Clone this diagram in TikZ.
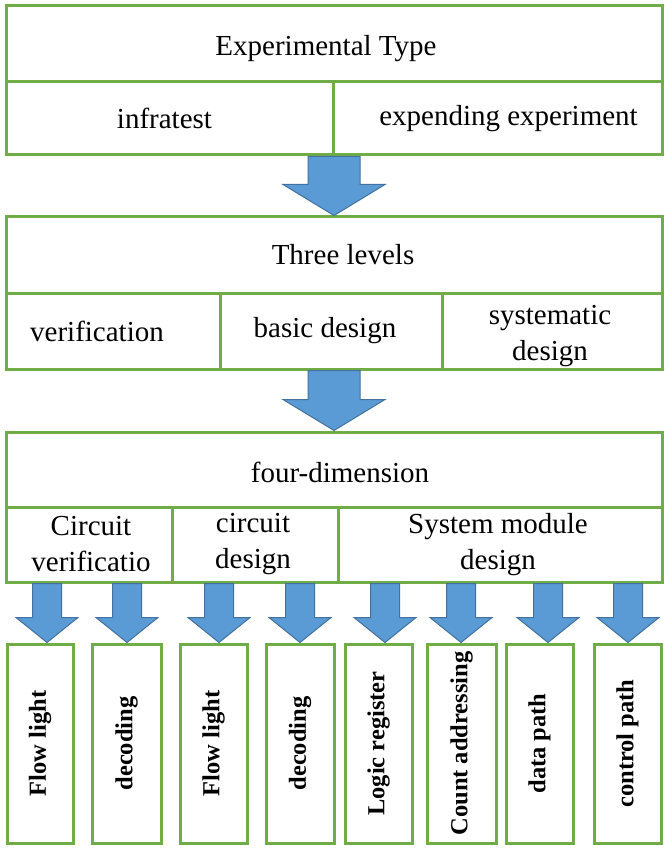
\documentclass[tikz,border=0pt]{standalone}
\usepackage{fontspec}
\setmainfont{Liberation Serif}
\usetikzlibrary{calc}
\definecolor{cellgreen}{HTML}{70AD47}
\definecolor{arrowblue}{HTML}{5B9BD5}
\definecolor{arrowedge}{HTML}{41719C}
\tikzset{
  cellbox/.style={draw=cellgreen, line width=3pt, rectangle, inner sep=0pt, fill=white},
  lab/.style={font=\fontsize{29}{36}\selectfont, align=center, inner sep=0pt},
  vlab/.style={font=\fontsize{24.5}{28}\selectfont\bfseries, rotate=90, inner sep=0pt},
  blockarrow/.style={fill=arrowblue, draw=arrowedge, line width=1pt, line join=miter}
}
\newcommand\cellnode[5]{% name, x1, y1, x2, y2
  \node[cellbox, minimum width={(#4-#2)*1pt}, minimum height={(#5-#3)*1pt}] (#1) at ({(#2+#4)/2},{(#3+#5)/2}) {};}
\newcommand\blockarrow[5]{% start, end, shaft half, head half, head length
  \draw[blockarrow] let \p1=#1, \p2=#2 in
   ({\x2-#3},\y1) -- ({\x2+#3},\y1) -- ({\x2+#3},{\y2+#5}) -- ({\x2+#4},{\y2+#5})
   -- (\x2,\y2) -- ({\x2-#4},{\y2+#5}) -- ({\x2-#3},{\y2+#5}) -- cycle;}
\begin{document}
\begin{tikzpicture}[x=1pt, y=-1pt]
\useasboundingbox (0,0) rectangle (668,850);
% box 1
\cellnode{e0}{6}{6}{662}{82}
\cellnode{e1}{6}{82}{333}{155}
\cellnode{e2}{333}{82}{662}{155}
\node[lab] at ([xshift=-8pt,yshift=-5pt]e0.center) {Experimental Type};
\node[lab] at ([xshift=-5pt]e1.center) {infratest};
\node[lab] at ([xshift=11pt]e2.center) {expending experiment};
% box 2
\cellnode{t0}{6}{217}{662}{293}
\cellnode{t1}{6}{293}{220}{369}
\cellnode{t2}{220}{293}{442}{369}
\cellnode{t3}{442}{293}{662}{369}
\node[lab] at ([xshift=9pt]t0.center) {Three levels};
\node[lab] at ([xshift=-16pt]t1.center) {verification};
\node[lab] at ([xshift=-6pt]t2.center) {basic design};
\node[lab] at ([xshift=-2pt,yshift=-5pt]t3.center) {systematic\\design};
% box 3
\cellnode{f0}{6}{432}{662}{507}
\cellnode{f1}{6}{507}{172}{582}
\cellnode{f2}{172}{507}{338}{582}
\cellnode{f3}{338}{507}{662}{582}
\node[lab] at ([xshift=6pt,yshift=-3pt]f0.center) {four-dimension};
\node[lab] at ([xshift=2pt]f1.center) {Circuit\\verificatio};
\node[lab] at ([xshift=-2pt]f2.center) {circuit\\design};
\node[lab] at ([xshift=-2pt]f3.center) {System module\\design};
% bottom boxes
\cellnode{b1}{7}{644}{73}{843}
\cellnode{b2}{92}{644}{161}{843}
\cellnode{b3}{180}{644}{247}{843}
\cellnode{b4}{266}{644}{334}{843}
\cellnode{b5}{345}{644}{412}{843}
\cellnode{b6}{427}{644}{496}{843}
\cellnode{b7}{506}{644}{573}{843}
\cellnode{b8}{594}{644}{661}{843}
\node[vlab] at (b1.center) {Flow light};
\node[vlab] at (b2.center) {decoding};
\node[vlab] at (b3.center) {Flow light};
\node[vlab] at (b4.center) {decoding};
\node[vlab] at (b5.center) {Logic register};
\node[vlab] at (b6.center) {Count addressing};
\node[vlab] at (b7.center) {data path};
\node[vlab] at (b8.center) {control path};
% arrow axes
\coordinate (ax0) at (334,0);
\coordinate (ax1) at (47,0);
\coordinate (ax2) at (127,0);
\coordinate (ax3) at (219,0);
\coordinate (ax4) at (300,0);
\coordinate (ax5) at (385,0);
\coordinate (ax6) at (461,0);
\coordinate (ax7) at (548,0);
\coordinate (ax8) at (628,0);
% big arrows
\blockarrow{(ax0 |- e1.south)}{(ax0 |- t0.north)}{26pt}{51pt}{31pt}
\blockarrow{(ax0 |- t1.south)}{(ax0 |- f0.north)}{26pt}{51pt}{31pt}
% small arrows
\blockarrow{(ax1 |- f1.south)}{(ax1 |- b1.north)}{14.5pt}{31pt}{25pt}
\blockarrow{(ax2 |- f1.south)}{(ax2 |- b2.north)}{14.5pt}{31pt}{25pt}
\blockarrow{(ax3 |- f2.south)}{(ax3 |- b3.north)}{14.5pt}{31pt}{25pt}
\blockarrow{(ax4 |- f2.south)}{(ax4 |- b4.north)}{14.5pt}{31pt}{25pt}
\blockarrow{(ax5 |- f3.south)}{(ax5 |- b5.north)}{14.5pt}{31pt}{25pt}
\blockarrow{(ax6 |- f3.south)}{(ax6 |- b6.north)}{14.5pt}{31pt}{25pt}
\blockarrow{(ax7 |- f3.south)}{(ax7 |- b7.north)}{14.5pt}{31pt}{25pt}
\blockarrow{(ax8 |- f3.south)}{(ax8 |- b8.north)}{14.5pt}{31pt}{25pt}
\end{tikzpicture}
\end{document}
